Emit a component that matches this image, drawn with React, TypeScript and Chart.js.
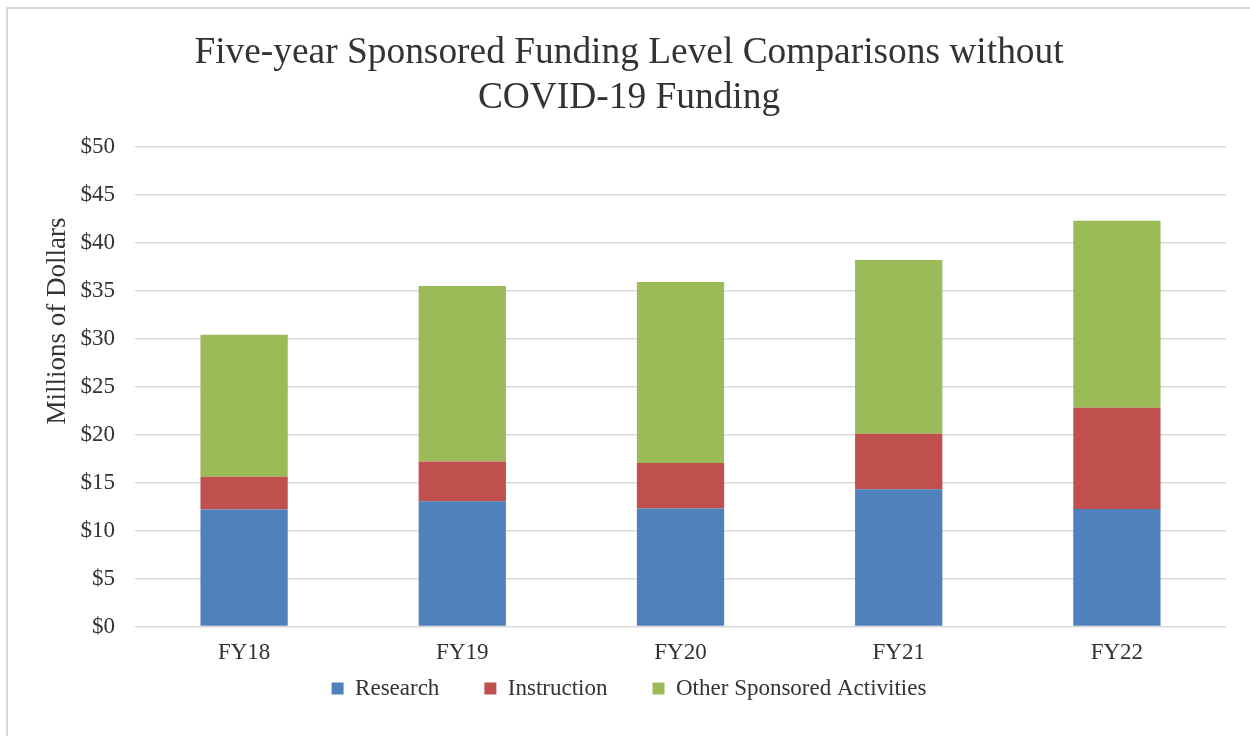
import React, { useEffect, useRef } from "react";
import { Chart, registerables } from "chart.js";

Chart.register(...registerables);

const categories = ["FY18", "FY19", "FY20", "FY21", "FY22"];
const research = [12.2, 13.05, 12.3, 14.3, 12.25];
const instruction = [3.4, 4.15, 4.75, 5.8, 10.55];
const otherSponsored = [14.8, 18.3, 18.85, 18.1, 19.5];
const titleLines = ["Five-year Sponsored Funding Level Comparisons without", "COVID-19 Funding"];
const yAxisTitle = "Millions of Dollars";

const FONT = "'Liberation Serif', 'Times New Roman', serif";
const TEXT = "#333333";

const yTitlePlugin = {
  id: "yTitlePlugin",
  afterDraw(chart: any) {
    const { ctx, chartArea } = chart;
    ctx.save();
    ctx.fillStyle = TEXT;
    ctx.font = `27px ${FONT}`;
    ctx.textAlign = "center";
    ctx.textBaseline = "middle";
    ctx.translate(chartArea.left - 77, chartArea.top + chartArea.height * 0.363);
    ctx.rotate(-Math.PI / 2);
    ctx.fillText(yAxisTitle, 0, 0);
    ctx.restore();
  },
};

export default function App() {
  const ref = useRef<HTMLCanvasElement | null>(null);
  useEffect(() => {
    if (!ref.current) return;
    const chart = new Chart(ref.current, {
      type: "bar",
      data: {
        labels: categories,
        datasets: [
          { label: "Research", data: research, backgroundColor: "#4F81BD" },
          { label: "Instruction", data: instruction, backgroundColor: "#C0504D" },
          { label: "Other Sponsored Activities", data: otherSponsored, backgroundColor: "#9BBB59" },
        ],
      },
      options: {
        animation: false,
        responsive: true,
        maintainAspectRatio: false,
        datasets: { bar: { barPercentage: 0.4, categoryPercentage: 1 } },
        layout: { padding: { left: 0, right: 0, top: 0, bottom: 26 } },
        plugins: {
          title: {
            display: true,
            text: titleLines,
            color: TEXT,
            font: { family: FONT, size: 37.4, weight: "normal", lineHeight: 1.2 },
            padding: { top: 22, bottom: 26 },
          },
          legend: {
            position: "bottom",
            labels: {
              boxWidth: 12,
              boxHeight: 12,
              padding: 45,
              color: TEXT,
              font: { family: FONT, size: 23 },
            },
          },
          tooltip: { enabled: false },
        },
        scales: {
          x: {
            stacked: true,
            grid: { display: false, drawTicks: false },
            border: { display: false },
            ticks: { color: TEXT, font: { family: FONT, size: 23 }, mirror: true, padding: -40 },
            afterFit: (s: any) => {
              s.height = 5.5;
            },
          },
          y: {
            stacked: true,
            min: 0,
            max: 50,
            grid: { color: "#d9d9d9", lineWidth: 1.5, drawTicks: false },
            border: { display: false },
            ticks: {
              stepSize: 5,
              padding: 20,
              color: TEXT,
              font: { family: FONT, size: 23 },
              callback: (v: any) => "$" + v,
            },
            afterFit: (s: any) => {
              s.width = 127;
            },
          },
          yR: {
            type: "linear",
            position: "right",
            display: true,
            grid: { display: false, drawTicks: false },
            border: { display: false },
            ticks: { display: false },
            afterFit: (s: any) => {
              s.width = 24;
            },
          },
        },
      },
      plugins: [yTitlePlugin],
    });
    return () => chart.destroy();
  }, []);
  return (
    <div
      style={{
        position: "fixed",
        left: 6,
        top: 7,
        right: 0,
        bottom: 0,
        borderTop: "2px solid #d9d9d9",
        borderLeft: "2px solid #d9d9d9",
        boxSizing: "border-box",
        background: "#fff",
      }}
    >
      <canvas ref={ref} />
    </div>
  );
}
